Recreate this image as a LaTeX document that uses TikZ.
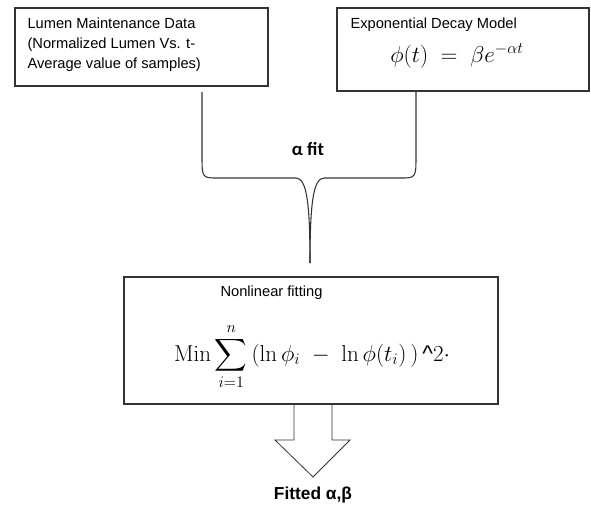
\documentclass[tikz,border=0pt]{standalone}
\usepackage{amsmath, amssymb}
\usepackage[no-math]{fontspec}
\setmainfont{Liberation Sans}
\newfontfamily\calibri{Carlito}
\usetikzlibrary{positioning}

\begin{document}
\begin{tikzpicture}[x=0.75pt, y=-0.75pt, font=\fontsize{11}{15}\selectfont, line width=0.8pt,
	box/.style={draw=black!80, inner sep=0pt}]
		\useasboundingbox (0,0) rectangle (591,508);
		\node[box, minimum width=189.75pt, minimum height=58.5pt] (data) at (141.5, 47) {};
		\node[box, minimum width=189pt, minimum height=62.25pt] (model) at (463, 49.5) {};
		\node[box, minimum width=280.5pt, minimum height=95.25pt] (fitting) at (311, 340.5) {};
		\node[anchor=west, align=left, inner sep=0pt] (datatxt) at (27, 45)
		{
			Lumen Maintenance Data\\
			(Normalized Lumen Vs. t-\\
			Average value of samples)
		};
		\node[anchor=west, inner sep=0pt] (modeltxt) at (350, 25) {Exponential Decay Model};
		\node[inner sep=0pt] (modeleq) at (457, 56) {\fontsize{17}{19}\selectfont$\phi(t) \;=\; \beta e^{-\alpha t}$};
		\node[anchor=west, inner sep=0pt] (fittxt) at (220, 293) {Nonlinear fitting};
		\node[inner sep=0pt] (fiteq) at (312, 357)
		{
			\fontsize{17}{18}\selectfont
			$
			\displaystyle \mathrm{Min}\sum_{i=1}^{n} \, (\ln \phi_i \;-\; \ln \phi(t_i)\,)\,\text{\textasciicircum}2 \cdot
			$
		};
		\node[inner sep=0pt] (alphafit) at (308, 149) {\calibri\bfseries\fontsize{14}{16}\selectfont α fit};
		\node[inner sep=0pt] (result) at (313, 495) {\bfseries\fontsize{13}{15}\selectfont Fitted α,β};
		\coordinate (lft) at (202, 92);
		\coordinate (rgt) at (416, 92);
		\coordinate (tip) at (310, 263);
		\draw[black!80] (lft) -- (202, 155) .. controls (202, 178) .. (218, 178) -- (296, 178)
			.. controls (307, 178) and (310, 205) .. (tip);
		\draw[black!80] (tip) .. controls (310, 205) and (313, 178) .. (324, 178) -- (400, 178)
			.. controls (416, 178) .. (416, 155) -- (rgt);
		\draw[black!80, line width=0.6pt] (294, 404) -- (294, 440) -- (275, 440) -- (313, 477)
			-- (350, 440) -- (332, 440) -- (332, 404);
	\end{tikzpicture}
\end{document}
